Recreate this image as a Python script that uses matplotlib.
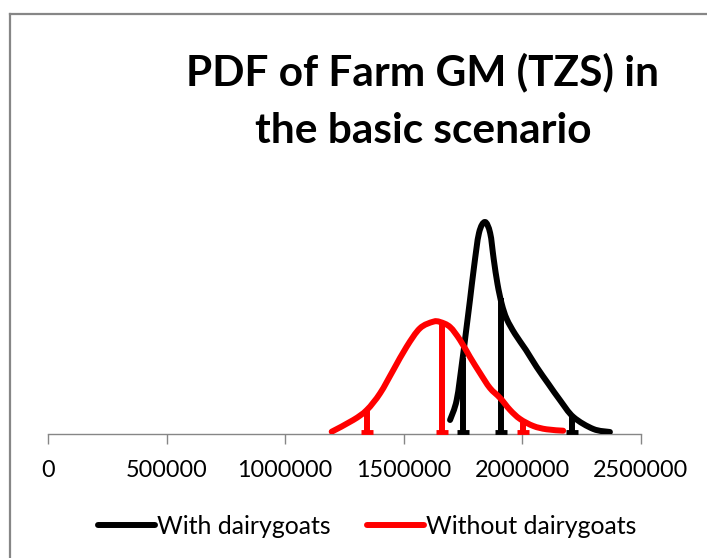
import matplotlib
matplotlib.use("Agg")
import matplotlib.pyplot as plt
from matplotlib.lines import Line2D
from matplotlib.path import Path
from matplotlib.patches import PathPatch

plt.rcParams['font.family'] = ['Lato', 'DejaVu Sans']

# Farm gross margin (TZS, millions) and relative probability density
gm_with = [1.695, 1.723, 1.747, 1.761, 1.779, 1.796, 1.817, 1.842, 1.864, 1.879,
           1.895, 1.913, 1.934, 1.969, 2.015, 2.060, 2.110, 2.158, 2.215, 2.299, 2.369]
pdf_with = [0.14, 0.34, 0.74, 1.00, 1.34, 1.67, 2.01, 2.12, 2.01, 1.75,
            1.50, 1.30, 1.15, 1.00, 0.84, 0.67, 0.50, 0.34, 0.17, 0.05, 0.02]

gm_without = [1.196, 1.287, 1.344, 1.400, 1.456, 1.512, 1.568, 1.624, 1.653, 1.695,
              1.737, 1.779, 1.821, 1.863, 1.906, 1.948, 1.990, 2.046, 2.102, 2.172]
pdf_without = [0.023, 0.14, 0.24, 0.407, 0.64, 0.873, 1.057, 1.123, 1.12, 1.07,
               0.94, 0.77, 0.61, 0.46, 0.36, 0.24, 0.15, 0.08, 0.047, 0.033]

# percentile markers (vertical lines)
pct_with = [1.748, 1.908, 2.208]
pct_with_h = [0.76, 1.36, 0.19]
pct_without = [1.344, 1.659, 2.004]
pct_without_h = [0.24, 1.12, 0.125]

xticks = [0, 500000, 1000000, 1500000, 2000000, 2500000]
xtick_labels = ["0", "500000", "1000000", "1500000", "2000000", "2500000"]

series_names = ["With dairygoats", "Without dairygoats"]
title_lines = ["PDF of Farm GM (TZS) in", "the basic scenario"]

W, H = 707, 558
fig = plt.figure(figsize=(W / 100, H / 100), dpi=100)

ax_l, ax_r, ax_b, ax_t = 48, 641, 434, 184
ax = fig.add_axes([ax_l / W, 1 - ax_b / H, (ax_r - ax_l) / W, (ax_b - ax_t) / H])

M = 1e6
lw = 4.3


def smooth_path(xs, ys):
    """Excel-like smoothed line: Catmull-Rom segments rendered as cubic Beziers."""
    pts = list(zip(xs, ys))
    n = len(pts)
    verts = [pts[0]]
    codes = [Path.MOVETO]
    for i in range(n - 1):
        p0 = pts[i - 1] if i > 0 else pts[i]
        p1 = pts[i]
        p2 = pts[i + 1]
        p3 = pts[i + 2] if i + 2 < n else pts[i + 1]
        c1 = (p1[0] + (p2[0] - p0[0]) / 6, p1[1] + (p2[1] - p0[1]) / 6)
        c2 = (p2[0] - (p3[0] - p1[0]) / 6, p2[1] - (p3[1] - p1[1]) / 6)
        verts += [c1, c2, p2]
        codes += [Path.CURVE4] * 3
    return Path(verts, codes)


def draw(gm, pdf, pct, pct_h, color):
    path = smooth_path([g * M for g in gm], pdf)
    ax.add_patch(PathPatch(path, facecolor='none', edgecolor=color, lw=lw,
                           capstyle='round', joinstyle='round', zorder=3))
    for p, h in zip(pct, pct_h):
        ax.plot([p * M, p * M], [0, h], color=color, lw=lw, solid_capstyle='butt', zorder=3)
        ax.plot([p * M], [0.02], marker='_', color=color, markersize=8, mew=3.5, zorder=3)


draw(gm_with, pdf_with, pct_with, pct_with_h, 'black')
draw(gm_without, pdf_without, pct_without, pct_without_h, '#ff0000')

ax.set_xlim(0, 2500000)
ax.set_ylim(0, 2.5)
for s in ['top', 'right', 'left']:
    ax.spines[s].set_visible(False)
ax.spines['bottom'].set_color('#868686')
ax.spines['bottom'].set_linewidth(1.0)
ax.set_yticks([])
ax.set_xticks(xticks)
ax.set_xticklabels(xtick_labels)
ax.tick_params(axis='x', direction='out', length=7.5, width=1.0, color='#868686',
               labelsize=16.8, pad=11, labelcolor='black')
ax.patch.set_alpha(0)

fig.text(423 / W, 1 - 85 / H, title_lines[0], ha='center', va='baseline', fontsize=30.5,
         fontweight='bold')
fig.text(423 / W, 1 - 143 / H, title_lines[1], ha='center', va='baseline', fontsize=30.5,
         fontweight='bold')

handles = [Line2D([], [], color='black', lw=lw, solid_capstyle='round'),
           Line2D([], [], color='#ff0000', lw=lw, solid_capstyle='round')]
fig.legend(handles, series_names, loc='center left', bbox_to_anchor=(98 / W, 1 - 526 / H),
           ncol=2, frameon=False, fontsize=17.9, handlelength=2.3, handletextpad=0.08,
           columnspacing=1.45, borderaxespad=0, borderpad=0)

# chart-area border (cropped on the right and bottom)
border = dict(color='#868686', lw=1.6, transform=fig.transFigure)
fig.add_artist(Line2D([10 / W, 1.01], [1 - 14 / H, 1 - 14 / H], **border))
fig.add_artist(Line2D([10 / W, 10 / W], [1 - 14 / H, -0.01], **border))

fig.savefig("out.png", dpi=100)
